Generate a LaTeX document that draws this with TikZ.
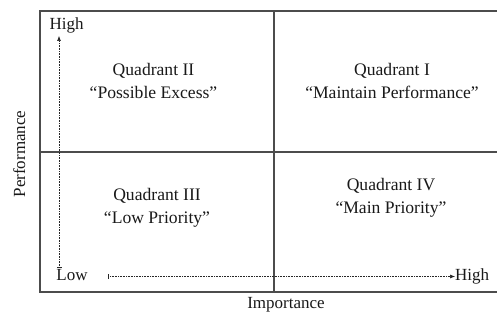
\documentclass[tikz,border=0pt]{standalone}
\usepackage{fontspec}
\setmainfont{Liberation Serif}
\usepackage{tikz}
\usetikzlibrary{calc}
\usetikzlibrary{arrows.meta}

\begin{document}
\begin{tikzpicture}[x=1pt,y=-1pt]
     \tikzstyle{every node}=[inner sep=0pt,text=black!90,font=\fontsize{17}{21}\selectfont]
     \tikzstyle{frame}=[line width=1.1pt,black!70]
     \tikzstyle{quad}=[anchor=base,align=center,font=\fontsize{17.6}{23}\selectfont]
     \tikzstyle{axis}=[line width=0.6pt,densely dotted,black!85,{Bar[width=5pt]}-{Latex[length=5pt,width=4pt]}]
      \useasboundingbox (0,0) rectangle (497,320);
      \coordinate (TL) at (40,11);
      \coordinate (TR) at (499,11);
      \coordinate (LL) at (40,292);
      \coordinate (LR) at (499,292);
      \coordinate (MidT) at (274,11);
      \coordinate (MidB) at (274,292);
      \coordinate (MidL) at (40,152);
      \coordinate (MidR) at (499,152);
      \coordinate (Origin)   at (59,268);
      \coordinate (YAxisMax) at (59,36);
      \coordinate (XAxisMin) at (108,276.5);
      \draw [frame] (LL) rectangle (TR);
      \draw [frame] (MidT) -- (MidB);
      \draw [frame] (MidL) -- (MidR);
      % quadrants (base = baseline of the second line)
      \node[quad] (QII)  at (153.5,99) {Quadrant II\\``Possible Excess''};
      \node[quad] (QI)   at (392,99)   {Quadrant I\\``Maintain Performance''};
      \node[quad] (QIII) at (157,223)  {Quadrant III\\``Low Priority''};
      \node[quad] (QIV)  at (391,214)  {Quadrant IV\\``Main Priority''};
      % axes
      \node[anchor=base] (YHigh) at (66.5,29.5) {High};
      \node[anchor=base] (XLow)  at (72,280.5) {Low};
      \node[anchor=base west] (XHigh) at (455,280.5) {High};
      \draw [axis] (Origin) -- (YAxisMax);
      \draw [axis] (XAxisMin) -- (XHigh.west|-XAxisMin);
      \node[anchor=base] (Imp) at (286,308) {Importance};
      \node[anchor=base,rotate=90] (Perf) at (25,154) {Performance};
    \end{tikzpicture}
\end{document}
